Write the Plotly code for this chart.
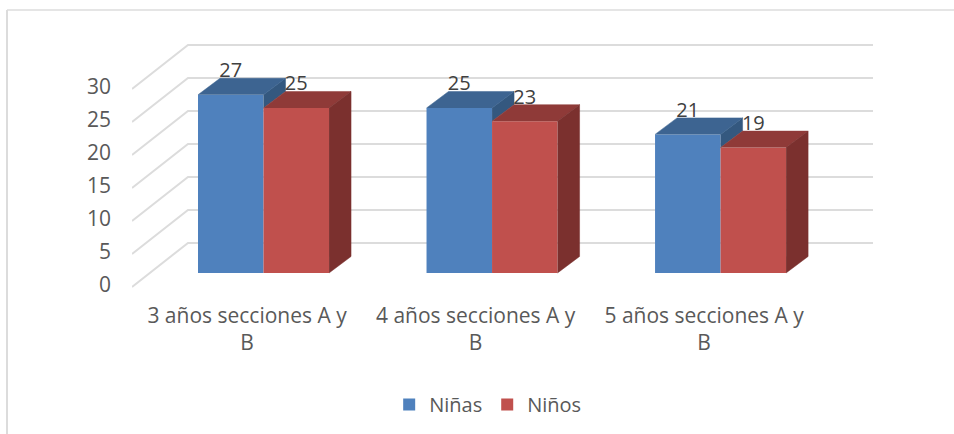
import plotly.graph_objects as go

categories = ["3 años secciones A y<br>B", "4 años secciones A y<br>B", "5 años secciones A y<br>B"]
ninas = [27, 25, 21]
ninos = [25, 23, 19]
axis_ticks = [0, 5, 10, 15, 20, 25, 30]

BLUE, BLUE_TOP, BLUE_SIDE = "#4F81BD", "#3D6491", "#34587F"
RED, RED_TOP, RED_SIDE = "#C0504D", "#8F3A38", "#7B302E"
GRID = "#DCDCDC"

# Oblique projection, expressed in axis units
BAR_W = 0.2867
DEPTH_X, DEPTH_Y = 0.0963, 2.5
X0, X1 = -0.5755, 2.667          # plot-area ends
WALL_X = -0.3305                 # back-wall corner
WALL_Y, FRONT_Y = 4.55, -2.12    # value offset of back wall / front edge
LABEL_Y = -1.82
TEXT_DROP = 0.6

idx = list(range(len(categories)))
fig = go.Figure()

fig.add_bar(x=idx, y=ninas, name="Niñas", marker=dict(color=BLUE, line_width=0))
fig.add_bar(x=idx, y=ninos, name="Niños", marker=dict(color=RED, line_width=0))


def face(xs, ys, color):
    fig.add_scatter(x=xs, y=ys, mode="lines", fill="toself", fillcolor=color,
                    line=dict(color=color, width=0.5), showlegend=False, hoverinfo="skip")


for i, b, r in zip(idx, ninas, ninos):
    xl, xm, xr = i - BAR_W, i, i + BAR_W
    face([xm, xm + DEPTH_X, xm + DEPTH_X, xm], [b, b + DEPTH_Y, r + DEPTH_Y, r], BLUE_SIDE)
    face([xl, xl + DEPTH_X, xm + DEPTH_X, xm], [b, b + DEPTH_Y, b + DEPTH_Y, b], BLUE_TOP)
    face([xm, xm + DEPTH_X, xr + DEPTH_X, xr], [r, r + DEPTH_Y, r + DEPTH_Y, r], RED_TOP)
    face([xr, xr + DEPTH_X, xr + DEPTH_X, xr], [r, r + DEPTH_Y, DEPTH_Y, 0], RED_SIDE)

label_x = [i - BAR_W / 2 for i in idx] + [i + BAR_W / 2 for i in idx]
label_y = [v + DEPTH_Y - TEXT_DROP for v in ninas] + [v + DEPTH_Y - TEXT_DROP for v in ninos]
label_t = [str(v) for v in ninas + ninos]
fig.add_scatter(x=label_x, y=label_y, text=label_t, mode="text", textposition="top center",
                textfont=dict(family="Open Sans", size=20, color="#404040"),
                showlegend=False, hoverinfo="skip", cliponaxis=False)

shapes = []
for t in axis_ticks:
    path = (f"M{X0},{t + FRONT_Y} L{WALL_X},{t + WALL_Y} L{X1},{t + WALL_Y}")
    shapes.append(dict(type="path", path=path, xref="x", yref="y", layer="below",
                       line=dict(color=GRID, width=2)))
shapes.append(dict(type="line", xref="paper", yref="paper", x0=-0.1687, x1=1.11, y0=1.12, y1=1.12,
                   line=dict(color=GRID, width=1.5)))
shapes.append(dict(type="line", xref="paper", yref="paper", x0=-0.1687, x1=-0.1687, y0=1.12, y1=-0.6,
                   line=dict(color=GRID, width=2)))

fig.update_layout(
    width=954, height=434, autosize=False,
    margin=dict(l=132, r=81, t=40, b=144, autoexpand=False),
    paper_bgcolor="white", plot_bgcolor="white",
    barmode="group", bargap=1 - 2 * BAR_W, bargroupgap=0,
    shapes=shapes,
    font=dict(family="Open Sans", color="#595959"),
    legend=dict(orientation="h", x=0.48, xanchor="center", y=-0.38, yanchor="top",
                font=dict(size=20, color="#595959")),
)
fig.update_xaxes(range=[X0, X1], tickmode="array", tickvals=[i - 0.072 for i in idx], ticktext=categories,
                 showgrid=False, zeroline=False, showline=False, ticks="", tickangle=0, automargin=False,
                 ticklabelstandoff=11, tickfont=dict(size=21, color="#595959"))
fig.update_yaxes(range=[-2.58, 35.3], tickmode="array", tickvals=[t + LABEL_Y for t in axis_ticks],
                 ticktext=[str(t) for t in axis_ticks], showgrid=False, zeroline=False, showline=False,
                 ticks="", automargin=False, ticklabelstandoff=20, tickfont=dict(size=21, color="#595959"))

fig.write_html("out.html", config=dict(displayModeBar=False), post_script="document.body.style.margin='0';")
